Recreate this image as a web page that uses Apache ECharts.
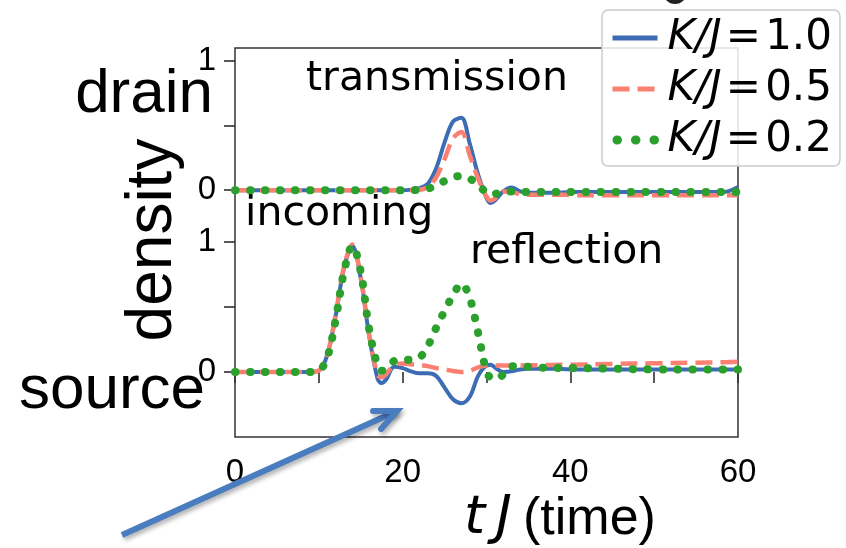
<!DOCTYPE html>
<html>
<head>
<meta charset="utf-8">
<script src="https://cdn.jsdelivr.net/npm/echarts@6/dist/echarts.min.js"></script>
<style>
  html, body { margin: 0; padding: 0; background: #fff; }
  #chart { width: 846px; height: 548px; }
</style>
</head>
<body>
<div id="chart"></div>
<script>
// time axis samples (tJ)
const tJ = [0, 2, 4, 6, 8, 9, 10, 11, 12, 13, 14, 15, 16, 17, 17.5, 18, 19, 20, 21, 22, 23, 24, 25, 26, 27, 28, 29, 30, 30.5, 31, 32, 33, 34, 35, 36, 38, 40, 45, 50, 55, 58, 59, 60];

// density at the drain (upper panel)
const drainK10 = [0, 0, 0, 0, 0, 0, 0, 0, 0, 0, 0, 0, 0, 0, 0, 0, 0, 0, 0.004, 0.015, 0.05, 0.17, 0.37, 0.53, 0.56, 0.36, 0.12, -0.06, -0.10, -0.08, -0.01, 0.02, -0.01, -0.02, -0.02, -0.02, -0.015, -0.015, -0.015, -0.015, -0.015, -0.005, 0.025];
const drainK05 = [0, 0, 0, 0, 0, 0, 0, 0, 0, 0, 0, 0, 0, 0, 0, 0, 0, 0, 0, 0.003, 0.025, 0.10, 0.24, 0.40, 0.45, 0.27, 0.09, -0.05, -0.08, -0.065, -0.01, -0.015, -0.03, -0.035, -0.035, -0.035, -0.038, -0.04, -0.04, -0.04, -0.04, -0.04, -0.04];
const drainK02 = [0, 0, 0, 0, 0, 0, 0, 0, 0, 0, 0, 0, 0, 0, 0, 0, 0, 0, 0, 0.002, 0.01, 0.04, 0.07, 0.10, 0.11, 0.09, 0.04, -0.02, -0.035, -0.03, -0.01, -0.01, -0.015, -0.015, -0.015, -0.015, -0.015, -0.015, -0.015, -0.015, -0.015, -0.015, -0.015];

// density at the source (lower panel)
const sourceK10 = [0, 0, 0, 0, 0, 0, 0.01, 0.13, 0.43, 0.80, 0.97, 0.72, 0.28, -0.05, -0.085, -0.06, 0.04, 0.03, 0.005, -0.01, -0.01, -0.03, -0.12, -0.21, -0.24, -0.19, -0.03, 0.05, 0.055, 0.035, 0.0, 0.005, 0.02, 0.025, 0.025, 0.025, 0.02, 0.02, 0.02, 0.02, 0.02, 0.02, 0.02];
const sourceK05 = [0, 0, 0, 0, 0, 0, 0.01, 0.13, 0.44, 0.81, 0.98, 0.73, 0.29, -0.02, -0.04, -0.02, 0.055, 0.065, 0.06, 0.055, 0.045, 0.03, 0.02, 0.008, 0.0, 0.01, 0.035, 0.05, 0.05, 0.05, 0.05, 0.05, 0.05, 0.05, 0.052, 0.054, 0.056, 0.062, 0.067, 0.072, 0.075, 0.076, 0.078];
const sourceK02 = [0, 0, 0, 0, 0, 0, 0.01, 0.11, 0.40, 0.77, 0.97, 0.77, 0.33, 0.05, 0.01, 0.02, 0.085, 0.095, 0.095, 0.11, 0.20, 0.34, 0.47, 0.59, 0.68, 0.57, 0.30, 0.0, -0.045, -0.055, -0.02, 0.045, 0.045, 0.04, 0.035, 0.03, 0.03, 0.025, 0.02, 0.02, 0.02, 0.02, 0.02];

const seriesNames = ['K/J=1.0', 'K/J=0.5', 'K/J=0.2'];
const xTicks = [0, 10, 20, 30, 40, 50, 60];
const xTickLabels = [0, 20, 40, 60];
const yTicks = [0, 0.5, 1];
const yTickLabels = [0, 1];

const BLUE = '#3C6DB4', SALMON = '#FA8072', GREEN = '#2CA02C';
const styles = [
  { color: BLUE, width: 4, type: 'solid', cap: 'butt' },
  { color: SALMON, width: 4.5, type: [17, 8], cap: 'butt' },
  { color: GREEN, width: 8, type: [0.5, 14.5], cap: 'round' }
];
// legend swatch strokes
const legendLines = [
  { color: BLUE, width: 5, type: 'solid', cap: 'butt', dashOffset: 0 },
  { color: SALMON, width: 5, type: [17, 8], cap: 'butt', dashOffset: 0 },
  { color: GREEN, width: 9, type: [0.5, 18], cap: 'round', dashOffset: -4.5 }
];

const pair = arr => tJ.map((t, i) => [t, arr[i]]);

function makeSeries(name, arr, idx, style) {
  return {
    name: name, type: 'line', xAxisIndex: idx, yAxisIndex: idx,
    data: pair(arr), smooth: 0.35, symbol: 'none', showSymbol: false,
    lineStyle: { color: style.color, width: style.width, type: style.type, cap: style.cap, join: 'round' },
    itemStyle: { color: style.color },
    z: 3 + seriesNames.indexOf(name)
  };
}

const L = 235, R = 738, TOP = 48, JOIN = 216, BOT = 437;
const W = 846, H = 548;

const tickStyle = { color: '#222', width: 1.5 };
const tickFont = { fontFamily: 'Liberation Sans', fontSize: 33, color: '#000' };

function yAxis(idx, min, max) {
  return {
    gridIndex: idx, type: 'value', min: min, max: max,
    axisLine: { show: false }, splitLine: { show: false },
    axisTick: { show: true, length: 11, lineStyle: tickStyle, customValues: yTicks },
    axisLabel: Object.assign({ customValues: yTickLabels, margin: 19 }, tickFont)
  };
}

// arrow geometry (decoration)
const arrowTail = [122, 535], arrowTip = [397, 411];
const ang = Math.atan2(arrowTip[1] - arrowTail[1], arrowTip[0] - arrowTail[0]);
const wing = (a) => [arrowTip[0] + 24 * Math.cos(ang + Math.PI + a), arrowTip[1] + 24 * Math.sin(ang + Math.PI + a)];

const chart = echarts.init(document.getElementById('chart'), null, { renderer: 'canvas' });
chart.setOption({
  backgroundColor: '#fff',
  animation: false,
  grid: [
    { left: L, right: W - R, top: TOP, height: JOIN - TOP },
    { left: L, right: W - R, top: JOIN, height: BOT - JOIN }
  ],
  xAxis: [
    { gridIndex: 0, type: 'value', min: 0, max: 60, show: false },
    {
      gridIndex: 1, type: 'value', min: 0, max: 60,
      axisLine: { show: false }, splitLine: { show: false },
      axisTick: { show: true, length: 11, lineStyle: tickStyle, customValues: xTicks },
      axisLabel: Object.assign({ customValues: xTickLabels, margin: 19 }, tickFont)
    }
  ],
  yAxis: [yAxis(0, -0.2, 1.1), yAxis(1, -0.5, 1.2)],
  legend: {
    orient: 'vertical', left: 602, top: 10,
    padding: [6, 8, 4, 6],
    itemWidth: 45, itemHeight: 12, itemGap: 7,
    backgroundColor: 'rgba(255,255,255,0.85)', borderColor: '#cccccc', borderWidth: 1.5, borderRadius: 6,
    z: 20,
    data: seriesNames.map((n, i) => ({
      name: n,
      itemStyle: { opacity: 0 },
      lineStyle: legendLines[i]
    })),
    textStyle: {
      fontFamily: 'DejaVu Sans', fontSize: 42, color: '#000', lineHeight: 44,
      rich: { i: { fontFamily: 'DejaVu Sans', fontStyle: 'italic', fontSize: 42, lineHeight: 44, padding: [0, 0, 0, 5] } }
    },
    formatter: n => '{i|K/J}\u200A=\u200A' + n.split('=')[1]
  },
  series: [
    makeSeries(seriesNames[0], drainK10, 0, styles[0]),
    makeSeries(seriesNames[1], drainK05, 0, styles[1]),
    makeSeries(seriesNames[2], drainK02, 0, styles[2]),
    makeSeries(seriesNames[0], sourceK10, 1, styles[0]),
    makeSeries(seriesNames[1], sourceK05, 1, styles[1]),
    makeSeries(seriesNames[2], sourceK02, 1, styles[2])
  ],
  graphic: [
    { type: 'rect', z: 1, silent: true, shape: { x: L, y: TOP, width: R - L, height: BOT - TOP },
      style: { fill: 'none', stroke: '#333', lineWidth: 1.5 } },
    { type: 'circle', z: 1, shape: { cx: 675, cy: -8, r: 12 }, style: { fill: '#222' } },
    { type: 'text', z: 5, x: 213, y: 95, style: { text: 'drain', font: '62px "Liberation Sans"', fill: '#000', align: 'right', verticalAlign: 'middle' } },
    { type: 'text', z: 5, x: 153, y: 240, rotation: Math.PI / 2, style: { text: 'density', font: '64px "Liberation Sans"', fill: '#000', align: 'center', verticalAlign: 'middle' } },
    { type: 'text', z: 5, x: 19, y: 391, style: { text: 'source', font: '62px "Liberation Sans"', fill: '#000', align: 'left', verticalAlign: 'middle' } },
    { type: 'text', z: 5, x: 306, y: 79, style: { text: 'transmission', font: '41px "DejaVu Sans"', fill: '#000', align: 'left', verticalAlign: 'middle' } },
    { type: 'text', z: 5, x: 245, y: 214, style: { text: 'incoming', font: '41px "DejaVu Sans"', fill: '#000', align: 'left', verticalAlign: 'middle' } },
    { type: 'text', z: 5, x: 470, y: 252, style: { text: 'reflection', font: '41px "DejaVu Sans"', fill: '#000', align: 'left', verticalAlign: 'middle' } },
    { type: 'text', z: 5, x: 464, y: 519, style: { text: 't\u2009J', font: 'italic 54px "DejaVu Sans"', fill: '#000', align: 'left', verticalAlign: 'middle' } },
    { type: 'text', z: 5, x: 523, y: 520, style: { text: '(time)', font: '52px "Liberation Sans"', fill: '#000', align: 'left', verticalAlign: 'middle' } },
    { type: 'polyline', z: 6, shape: { points: [arrowTail, arrowTip] },
      style: { stroke: '#4A7DBF', lineWidth: 6, lineCap: 'butt', shadowColor: 'rgba(0,0,0,0.3)', shadowBlur: 4, shadowOffsetX: 2, shadowOffsetY: 3 } },
    { type: 'polyline', z: 6, shape: { points: [wing(0.42), arrowTip, wing(-0.42)] },
      style: { stroke: '#4A7DBF', lineWidth: 6, lineCap: 'round', lineJoin: 'miter', fill: 'none', shadowColor: 'rgba(0,0,0,0.3)', shadowBlur: 4, shadowOffsetX: 2, shadowOffsetY: 3 } }
  ]
});
</script>
</body>
</html>
